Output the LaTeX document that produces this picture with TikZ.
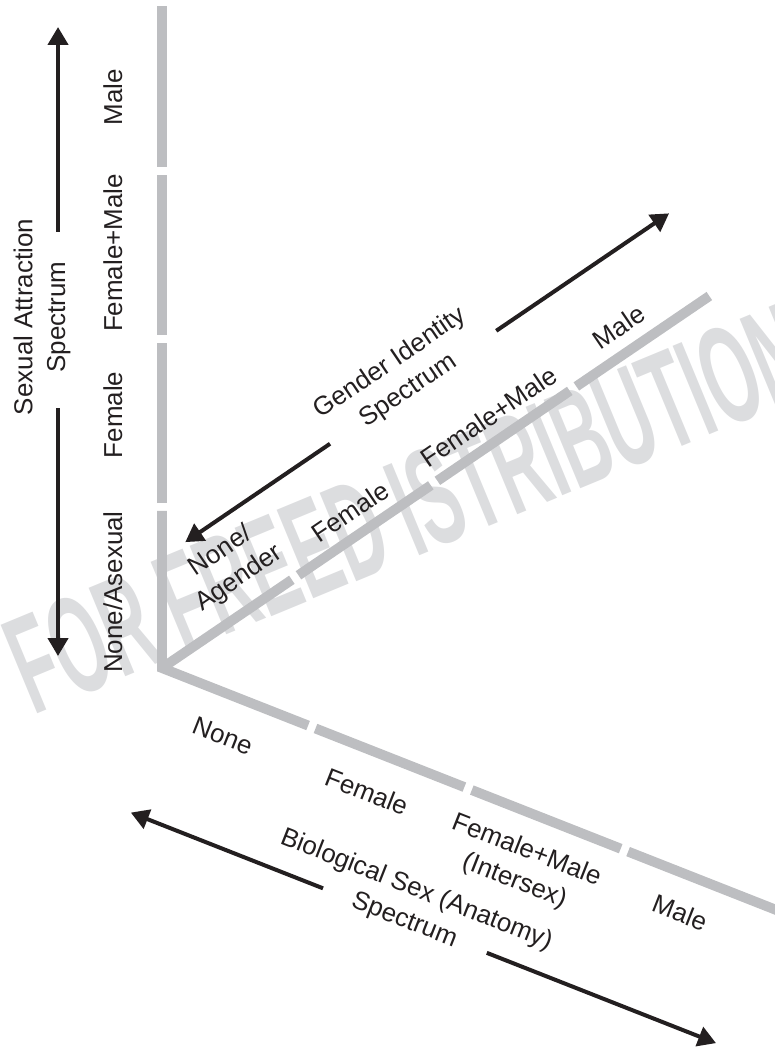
\documentclass[tikz,border=0pt]{standalone}
\usepackage{fontspec}
\setmainfont{Liberation Sans}
\usetikzlibrary{arrows.meta,calc,positioning}
\definecolor{axisgray}{RGB}{189,190,193}
\definecolor{markgray}{RGB}{220,221,223}
\definecolor{inkblack}{RGB}{35,31,32}

\begin{document}
\begin{tikzpicture}[>={Triangle[length=8.5pt,width=9.5pt]},
  axisbar/.style={axisgray,line width=4.7pt},
  spanarrow/.style={inkblack,line width=1.9pt},
  lab/.style={inner sep=0pt,align=center,text=inkblack,
    font=\fontsize{12.3}{15.5}\selectfont}]
 \useasboundingbox (-2.7,-6.3333) rectangle (10.2167,11.1333);
 \coordinate (O) at (0,0);
 % watermark behind everything
 \node[markgray,inner sep=0pt,anchor=west,rotate=22.5,xscale=0.49,
  font=\bfseries\fontsize{66}{66}\selectfont] (mark) at (-2.45,-0.05)
  {FOR FREED ISTRIBUTION};

 % sexual attraction (vertical)
 \begin{scope}[rotate=90,transform shape]
  \foreach \a/\b in {2.75/5.417,5.55/8.217,8.35/11.03}
   \draw[axisbar] (\a,0) -- (\b,0);
  \coordinate (attrEnd) at (2.617,0);
  \node[lab] (attrNone) at (1.267,0.817) {None/Asexual};
  \node[lab] (attrFemale) at (4.217,0.817) {Female};
  \node[lab] (attrBoth) at (6.917,0.817) {Female+Male};
  \node[lab] (attrMale) at (9.517,0.817) {Male};
  \node[lab] (attrTitle) at (5.85,2.0) {Sexual Attraction\\Spectrum};
  \coordinate (attrLo) at (0.2,1.733);
  \coordinate (attrHi) at (10.683,1.733);
  \coordinate (attrGapLo) at (4.333,1.733);
  \coordinate (attrGapHi) at (7.267,1.733);
 \end{scope}

 % gender identity
 \begin{scope}[rotate=34.2,transform shape]
  \foreach \a/\b in {0/2.617,2.75/5.417,5.55/8.217,8.35/11.03}
   \draw[axisbar] (\a,0) -- (\b,0);
  \node[lab] (genNone) at (1.9,0.78) {None/\\Agender};
  \node[lab] (genFemale) at (4.058,0.395) {Female};
  \node[lab] (genBoth) at (6.862,0.403) {Female+Male};
  \node[lab] (genMale) at (9.495,0.425) {Male};
  \node[lab] (genTitle) at (6.0,1.787) {Gender Identity\\Spectrum};
  \coordinate (genLo) at (1.5,1.517);
  \coordinate (genHi) at (11.25,1.517);
  \coordinate (genGapLo) at (4.417,1.517);
  \coordinate (genGapHi) at (7.767,1.517);
 \end{scope}

 % biological sex
 \begin{scope}[rotate=-21.5,transform shape]
  \foreach \a/\b in {2.75/5.417,5.55/8.217,8.35/11.03}
   \draw[axisbar] (\a,0) -- (\b,0);
  \coordinate (sexEnd) at (2.617,0);
  \node[lab] (sexNone) at (1.358,-0.682) {None};
  \node[lab] (sexFemale) at (3.932,-0.668) {Female};
  \node[lab] (sexBoth) at (6.767,-0.883) {Female+Male\\(Intersex)};
  \node[lab] (sexMale) at (9.527,-0.63) {Male};
  \node[lab] (sexTitle) at (5.3,-2.163) {Biological Sex (Anatomy)\\Spectrum};
  \coordinate (sexLo) at (0.4,-2.433);
  \coordinate (sexHi) at (10.883,-2.433);
  \coordinate (sexGapLo) at (3.843,-2.433);
  \coordinate (sexGapHi) at (6.777,-2.433);
 \end{scope}

 % corner where the axes meet
 \draw[axisbar,line join=miter] (attrEnd) -- (O) -- (sexEnd);

 % spectrum arrows
 \draw[spanarrow,->] (attrGapLo) -- (attrLo);
 \draw[spanarrow,->] (attrGapHi) -- (attrHi);
 \draw[spanarrow,->] (genGapLo) -- (genLo);
 \draw[spanarrow,->] (genGapHi) -- (genHi);
 \draw[spanarrow,->] (sexGapLo) -- (sexLo);
 \draw[spanarrow,->] (sexGapHi) -- (sexHi);
\end{tikzpicture}
\end{document}
